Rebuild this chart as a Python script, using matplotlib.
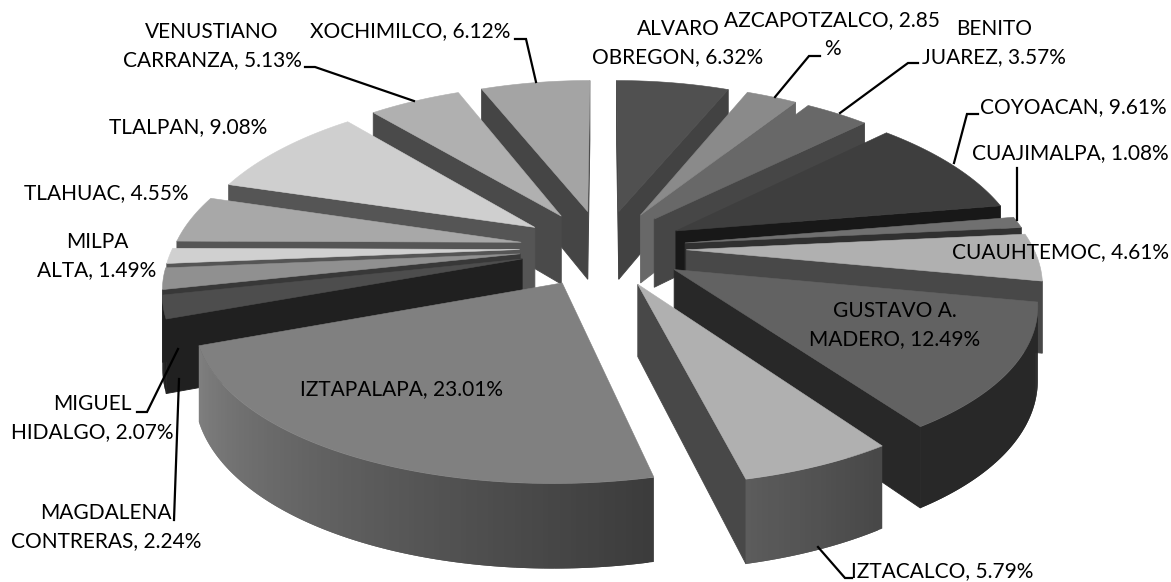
import numpy as np
import matplotlib
matplotlib.use("Agg")
import matplotlib.pyplot as plt
from matplotlib.patches import Polygon

# data, clockwise from the top
names = ["ALVARO\nOBREGON", "AZCAPOTZALCO", "BENITO\nJUAREZ", "COYOACAN", "CUAJIMALPA",
         "CUAUHTEMOC", "GUSTAVO A.\nMADERO", "IZTACALCO", "IZTAPALAPA", "MAGDALENA\nCONTRERAS",
         "MIGUEL\nHIDALGO", "MILPA\nALTA", "TLAHUAC", "TLALPAN", "VENUSTIANO\nCARRANZA", "XOCHIMILCO"]
values = [6.32, 2.85, 3.57, 9.61, 1.08, 4.61, 12.49, 5.79, 23.01, 2.24, 2.07, 1.49, 4.55, 9.08, 5.13, 6.12]

# grey levels
top_grey = [0x50, 0x8a, 0x68, 0x3e, 0x70, 0xb0, 0x62, 0xb0, 0x80, 0x4d, 0x90, 0xd0, 0xa8, 0xcf, 0xb0, 0xa4]
wall_grey = [0x42, 0x68, 0x46, 0x18, 0x30, 0x48, 0x28, 0x48, 0x3c, 0x20, 0x38, 0x55, 0x55, 0x55, 0x4a, 0x45]
rim_end_grey = [0x42, 0x68, 0x46, 0x18, 0x30, 0x48, 0x28, 0x5c, 0x80, 0x20, 0x38, 0x55, 0x55, 0x55, 0x4a, 0x45]

# label text anchor (centre x, centre y in pixels)
label_pos = [(678, 43), (832, 20), (994, 43), (1073, 107), (1070, 153), (1061, 252), (895, 325),
             (942, 571), (402, 389), (106, 527), (92, 418), (97, 256), (106, 193), (188, 127),
             (212, 46), (410, 31)]

leaders = [[(515, 39), (526, 39), (536, 82)],
           [(305, 67), (315, 67), (414, 101)],
           [(775, 97), (809, 56), (820, 56)],
           [(840, 113), (908, 63), (918, 63)],
           [(954, 163), (967, 114), (978, 114)],
           [(1017, 168), (1017, 220)],
           [(818, 547), (845, 578), (852, 578)],
           [(137, 412), (147, 412), (178, 349)],
           [(179, 379), (174, 520)]]

cx, cy = 603, 248
fx, fy = 347, 160
kx, ky = 0.175, 0.146
explode = 0.24
depth = 70


def project(x, y, z=0):
    s = 1 / (1 + ky * y)
    return cx + fx * x / (1 + kx * y), cy - fy * y * s + depth * z * s


def grey(v):
    return "#%02x%02x%02x" % (int(v), int(v), int(v))


def wall(ax, a, b, color, zo, c=None):
    # a, b are world points; only faces running right to left are seen
    pa, pb = project(*a), project(*b)
    if pb[0] >= pa[0]:
        return
    far = project(*c) if c else pb
    far_b = project(*(c or b), 1)
    pts = [pa, far, far_b, project(*a, 1)]
    if c:
        ax.add_patch(Polygon(pts, closed=True, fc=color, ec="none", zorder=zo))
    else:
        ax.add_patch(Polygon(pts, closed=True, fc=color, ec=color, lw=0.6, zorder=zo))


fig = plt.figure(figsize=(11.71, 5.82), dpi=100)
ax = fig.add_axes([0, 0, 1, 1])
ax.set_xlim(0, 1171)
ax.set_ylim(582, 0)
ax.axis("off")

total = sum(values)
ends = np.cumsum(values) / total * 360
starts = np.concatenate([[0], ends[:-1]])
mids = (starts + ends) / 2
order = np.argsort(-np.cos(np.radians(mids)))

for rank, i in enumerate(order):
    t1, t2, m = np.radians(starts[i]), np.radians(ends[i]), np.radians(mids[i])
    ox, oy = explode * np.sin(m), explode * np.cos(m)
    th = np.linspace(t1, t2, max(int(values[i] * 5), 6))
    rim = [(ox + np.sin(t), oy + np.cos(t)) for t in th]
    apex = (ox, oy)
    zo = rank * 10 + 1
    wall(ax, apex, rim[0], grey(wall_grey[i]), zo)
    wall(ax, rim[-1], apex, grey(wall_grey[i]), zo)
    for j in range(len(rim) - 1):
        f = j / (len(rim) - 2)
        shade = wall_grey[i] + (rim_end_grey[i] - wall_grey[i]) * f
        # each strip runs on under the next one so no seams show
        wall(ax, rim[j], rim[j + 1], grey(shade), zo + 1, c=rim[min(j + 2, len(rim) - 1)])
    pts = [project(*apex)] + [project(*p) for p in rim]
    c = grey(top_grey[i])
    ax.add_patch(Polygon(pts, closed=True, fc=c, ec=c, lw=0.4, zorder=zo + 2))

for line in leaders:
    ax.plot([p[0] for p in line], [p[1] for p in line], color="black", lw=1.6,
            solid_joinstyle="miter", zorder=500)

for i, name in enumerate(names):
    txt = "%s, %.2f%%" % (name, values[i])
    if name == "AZCAPOTZALCO":
        # this label wraps just before the percent sign
        txt = "AZCAPOTZALCO, 2.85"
        ax.text(832, 49, "%", family="Lato", fontsize=15, ha="center", va="center", color="black", zorder=600)
    ax.text(label_pos[i][0], label_pos[i][1], txt, family="Lato", fontsize=15, ha="center", va="center",
            linespacing=1.45, color="black", zorder=600)

fig.savefig("out.png", dpi=100)
